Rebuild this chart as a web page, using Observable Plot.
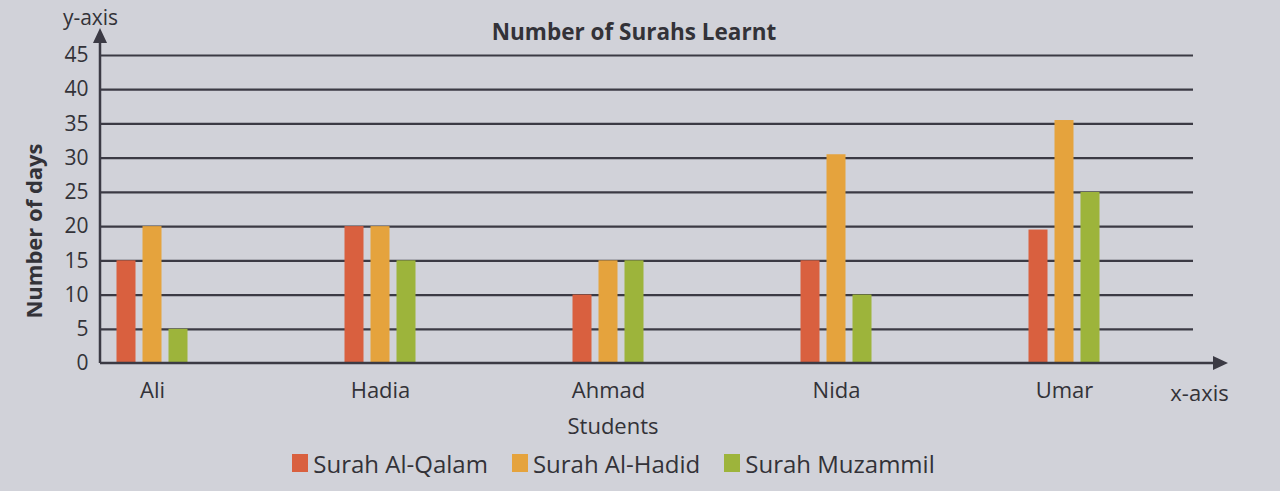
<!DOCTYPE html>
<html><head><meta charset="utf-8">
<script src="https://cdn.jsdelivr.net/npm/d3@7"></script>
<script src="https://cdn.jsdelivr.net/npm/@observablehq/plot@0.6"></script>
<style>
html,body{margin:0;padding:0;background:#d1d2d9;}
body{width:1280px;height:491px;overflow:hidden;font-family:"Open Sans",sans-serif;}
#legend{display:flex;justify-content:center;gap:24px;height:46px;align-items:center;font-size:24px;color:#333238;padding-right:53px;box-sizing:border-box}
.item{display:flex;align-items:center;gap:5px}
.sw{width:16px;height:18px;display:inline-block}
</style></head><body>
<div id="chart"></div><div id="legend"></div>
<script>
const students = ["Ali", "Hadia", "Ahmad", "Nida", "Umar"];
const surahs = ["Surah Al-Qalam", "Surah Al-Hadid", "Surah Muzammil"];
const qalam = [15, 20, 10, 15, 19.5];
const hadid = [20, 20, 15, 30.5, 35.5];
const muzammil = [5, 15, 15, 10, 25];
const yTicks = [0, 5, 10, 15, 20, 25, 30, 35, 40, 45];
const colors = ["#d9603f", "#e5a33d", "#9db43b"];

const series = [qalam, hadid, muzammil];
const rows = [];
students.forEach((s, i) => surahs.forEach((k, j) => rows.push({student: s, surah: k, days: series[j][i]})));

const ink = "#3b3a44";
const txt = "#333238";
const xRange = [38, 1178];
const barW = 19, bandW = (xRange[1] - xRange[0]) / students.length, inset = (bandW - barW) / 2;
const offsets = [-26, 0, 26];

const axes = (index, scales, values, dims) => {
  const g = d3.create("svg:g");
  const x0 = dims.marginLeft, y0 = scales.y(0), yTop = 28, xEnd = 1228;
  g.append("line").attr("x1", x0).attr("x2", x0).attr("y1", y0).attr("y2", yTop + 10)
    .attr("stroke", ink).attr("stroke-width", 2.5);
  g.append("path").attr("d", `M${x0},${yTop} L${x0 - 7},${yTop + 15} L${x0 + 7},${yTop + 15} Z`).attr("fill", ink);
  g.append("line").attr("x1", x0).attr("x2", xEnd - 10).attr("y1", y0).attr("y2", y0)
    .attr("stroke", ink).attr("stroke-width", 2.5);
  g.append("path").attr("d", `M${xEnd},${y0} L${xEnd - 15},${y0 - 7} L${xEnd - 15},${y0 + 7} Z`).attr("fill", ink);
  g.append("text").attr("transform", "translate(33,231) rotate(-90)")
    .attr("text-anchor", "middle").attr("dominant-baseline", "central")
    .attr("font-size", 22).attr("font-weight", "bold").attr("fill", txt)
    .text("Number of days");
  return g.node();
};

const chart = Plot.plot({
  width: 1280,
  height: 440,
  marginLeft: 100,
  marginRight: 87,
  marginTop: 55,
  marginBottom: 77,
  style: {background: "transparent", fontFamily: "Open Sans, sans-serif", color: txt},
  x: {type: "band", domain: students, range: xRange, padding: 0, axis: null},
  y: {domain: [0, 45], range: [363, 55], axis: null},
  marks: [
    Plot.ruleY(yTicks.filter(d => d > 0), {stroke: ink, strokeWidth: 2.2}),
    ...surahs.map((k, j) => Plot.barY(rows.filter(r => r.surah === k), {
      x: "student", y: "days", fill: colors[j], insetLeft: inset, insetRight: inset, dx: offsets[j]
    })),
    axes,
    Plot.axisY({ticks: yTicks, tickSize: 0, tickPadding: 12, fontSize: 21, label: null, color: txt}),
    Plot.text(students, {x: d => d, text: d => d, frameAnchor: "bottom", lineAnchor: "middle", dy: 27, fontSize: 22, fill: txt}),
    Plot.text(["Students"], {text: d => d, frameAnchor: "bottom", lineAnchor: "middle", dx: -34, dy: 63, fontSize: 22, fill: txt}),
    Plot.text(["x-axis"], {text: d => d, frameAnchor: "bottom-right", textAnchor: "middle", lineAnchor: "middle", dx: 6, dy: 30, fontSize: 22, fill: txt}),
    Plot.text(["y-axis"], {text: d => d, frameAnchor: "top-left", textAnchor: "middle", lineAnchor: "middle", dx: -10, dy: -37, fontSize: 21, fill: txt}),
    Plot.text(["Number of Surahs Learnt"], {text: d => d, frameAnchor: "top", lineAnchor: "middle", dx: -13, dy: -23, fontSize: 22.5, fontWeight: "bold", fill: txt})
  ]
});
document.getElementById("chart").appendChild(chart);

const legend = document.getElementById("legend");
surahs.forEach((k, j) => {
  const it = document.createElement("div");
  it.className = "item";
  const sw = document.createElement("span");
  sw.className = "sw";
  sw.style.background = colors[j];
  const t = document.createElement("span");
  t.textContent = k;
  it.appendChild(sw); it.appendChild(t);
  legend.appendChild(it);
});
</script></body></html>
